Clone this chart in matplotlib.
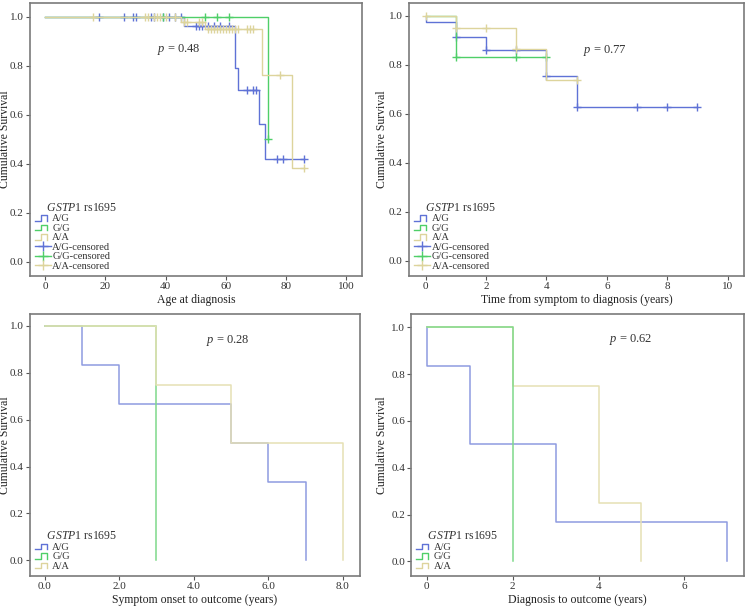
import numpy as np
import matplotlib
matplotlib.use("Agg")
import matplotlib.pyplot as plt
from matplotlib.lines import Line2D
from matplotlib.legend_handler import HandlerBase

plt.rcParams['font.family'] = ['Liberation Serif', 'DejaVu Serif']
plt.rcParams['mathtext.fontset'] = 'custom'
plt.rcParams['mathtext.rm'] = 'Liberation Serif'
plt.rcParams['mathtext.it'] = 'Liberation Serif:italic'

groups = ['A/G', 'G/G', 'A/A']

# panel 1: age at diagnosis
age_t = {'A/G': [0, 46, 63, 64, 71, 73, 86],
         'G/G': [0, 74],
         'A/A': [0, 45, 53, 72, 82, 86]}
age_s = {'A/G': [1, 0.963, 0.789, 0.70, 0.561, 0.42, 0.42],
         'G/G': [1, 0.5],
         'A/A': [1, 0.978, 0.949, 0.761, 0.381, 0.381]}
age_c = {'A/G': [18, 26, 29, 30, 35, 36, 39, 41, 43, 45, 50, 51, 52, 54, 56, 58, 61,
                 67, 69, 70, 77, 79, 86],
         'G/G': [39, 53, 57, 61, 74],
         'A/A': [16, 33, 34, 36, 37, 38, 40, 43, 46, 47, 51, 52, 54, 55, 56, 57, 58,
                 59, 60, 61, 62, 63, 64, 67, 68, 69, 78, 86]}

# panel 2: time from symptom to diagnosis
sym_t = {'A/G': [0, 0, 1, 2, 4, 5, 9],
         'G/G': [0, 1, 4],
         'A/A': [0, 1, 3, 4, 5]}
sym_s = {'A/G': [1, 0.976, 0.913, 0.86, 0.753, 0.627, 0.627],
         'G/G': [1, 0.833, 0.833],
         'A/A': [1, 0.95, 0.864, 0.739, 0.739]}
sym_c = {'A/G': [1, 2, 3, 4, 5, 7, 8, 9],
         'G/G': [1, 3, 4],
         'A/A': [0, 1, 2, 3, 5]}

# panel 3: symptom onset to outcome
onset_t = {'A/G': [0, 1, 2, 5, 6, 7], 'G/G': [0, 3], 'A/A': [0, 3, 5, 8]}
onset_s = {'A/G': [1, 0.833, 0.667, 0.5, 0.333, 0], 'G/G': [1, 0], 'A/A': [1, 0.75, 0.5, 0]}

# panel 4: diagnosis to outcome
diag_t = {'A/G': [0, 0, 1, 3, 7], 'G/G': [0, 2], 'A/A': [0, 2, 4, 5]}
diag_s = {'A/G': [1, 0.833, 0.5, 0.167, 0], 'G/G': [1, 0], 'A/A': [1, 0.75, 0.25, 0]}

colors = {'A/G': '#5f72d6', 'G/G': '#4fcf68', 'A/A': '#ddd49c'}
pale = {'A/G': '#8e9be0', 'G/G': '#7fd98a', 'A/A': '#e6e0b4'}


class HandlerStep(HandlerBase):
    def create_artists(self, legend, orig, xd, yd, w, h, fontsize, trans):
        x = np.array([0, 0.35, 0.35, 0.75, 0.75]) * w - xd
        y = np.array([0.1, 0.1, 0.85, 0.85, 0.1]) * h - yd
        ln = Line2D(x, y, color=orig.get_color(), lw=1.0, transform=trans)
        return [ln]


def style(ax, xlim, ylim, xticks, xticklabels, xlabel, ylab_x):
    ax.set_xlim(*xlim)
    ax.set_ylim(*ylim)
    ax.set_xticks(xticks)
    ax.set_xticklabels(xticklabels)
    ax.set_yticks([0, 0.2, 0.4, 0.6, 0.8, 1.0])
    ax.set_yticklabels(['0.0', '0.2', '0.4', '0.6', '0.8', '1.0'])
    for sp in ax.spines.values():
        sp.set_color('#7a7a7a')
        sp.set_linewidth(1.2)
    ax.tick_params(direction='out', length=3, width=0.8, color='#555555',
                   labelsize=8, pad=1.5, labelcolor='#333333')
    ax.set_xlabel(xlabel, fontsize=8.5, labelpad=2, color='#222222')
    ax.set_ylabel('Cumulative Survival', fontsize=8.5, color='#222222')
    ax.yaxis.set_label_coords(ylab_x, 0.5)


def censor_y(t, s, ct):
    idx = np.searchsorted(np.array(t), np.array(ct), side='right') - 1
    return np.array(s)[idx]


def legend(ax, censored):
    hs = [Line2D([], [], color=colors[g]) for g in groups]
    labels = list(groups)
    hmap = {h: HandlerStep() for h in hs}
    if censored:
        for g in groups:
            hs.append(Line2D([], [], color=colors[g], marker='+', ms=7, lw=1.0))
            labels.append(g + '-censored')
    lg = ax.legend(hs, labels, handler_map=hmap, loc='lower left',
                   bbox_to_anchor=(0.0, 0.0), frameon=False, fontsize=7.5,
                   labelspacing=0.02, handlelength=1.5, handletextpad=0.15,
                   borderaxespad=0.3, borderpad=0.2,
                   title='    $\\mathit{GSTP1}$ rs1695', title_fontsize=8.5)
    lg._legend_box.align = 'left'
    for t in lg.get_texts():
        t.set_color('#333333')
    lg.get_title().set_color('#333333')


fig = plt.figure(figsize=(7.46, 6.07), dpi=100)
ax1 = fig.add_axes([0.0402, 0.5453, 0.4451, 0.4497])
ax2 = fig.add_axes([0.5483, 0.5453, 0.4486, 0.4497])
ax3 = fig.add_axes([0.0402, 0.0511, 0.4424, 0.4316])
ax4 = fig.add_axes([0.5513, 0.0511, 0.4456, 0.4316])

# top-left
for g in groups:
    ax1.step(age_t[g], age_s[g], where='post', color=colors[g], lw=1.0)
    ax1.plot(age_c[g], censor_y(age_t[g], age_s[g], age_c[g]), '+',
             color=colors[g], ms=6, mew=1.0)
style(ax1, (-5.1, 105.3), (-0.058, 1.056), [0, 20, 40, 60, 80, 100],
      ['0', '20', '40', '60', '80', '100'], 'Age at diagnosis', -0.058)
ax1.text(37.2, 0.868, '$p$ = 0.48', fontsize=9, va='center', color='#333333')
legend(ax1, True)

# top-right
for g in groups:
    ax2.step(sym_t[g], sym_s[g], where='post', color=colors[g], lw=1.0)
    ax2.plot(sym_c[g], censor_y(sym_t[g], sym_s[g], sym_c[g]), '+',
             color=colors[g], ms=6, mew=1.0)
style(ax2, (-0.55, 10.53), (-0.062, 1.052), [0, 2, 4, 6, 8, 10],
      ['0', '2', '4', '6', '8', '10'], 'Time from symptom to diagnosis (years)', -0.064)
ax2.text(5.2, 0.86, '$p$ = 0.77', fontsize=9, va='center', color='#333333')
legend(ax2, True)

# bottom-left
for g in ['A/G', 'G/G', 'A/A']:
    ax3.step(onset_t[g], onset_s[g], where='post', color=pale[g], lw=1.1)
style(ax3, (-0.39, 8.46), (-0.067, 1.051), [0, 2, 4, 6, 8],
      ['0.0', '2.0', '4.0', '6.0', '8.0'], 'Symptom onset to outcome (years)', -0.058)
ax3.text(4.34, 0.94, '$p$ = 0.28', fontsize=9, va='center', color='#333333')
legend(ax3, False)

# bottom-right
for g in ['A/G', 'A/A', 'G/G']:
    ax4.step(diag_t[g], diag_s[g], where='post', color=pale[g], lw=1.1)
style(ax4, (-0.36, 7.38), (-0.062, 1.057), [0, 2, 4, 6],
      ['0', '2', '4', '6'], 'Diagnosis to outcome (years)', -0.069)
ax4.text(4.24, 0.95, '$p$ = 0.62', fontsize=9, va='center', color='#333333')
legend(ax4, False)

fig.savefig('out.png', dpi=100)
